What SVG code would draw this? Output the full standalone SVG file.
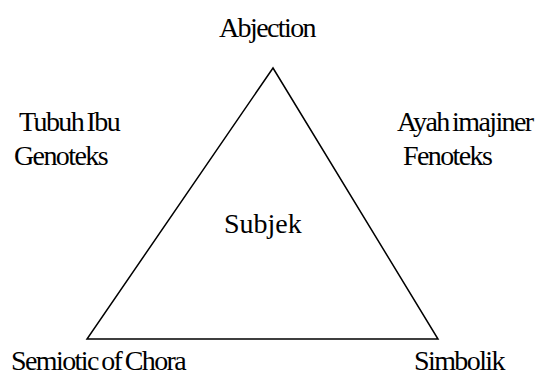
<svg xmlns="http://www.w3.org/2000/svg" width="548" height="376" viewBox="0 0 548 376">
<style>
.lbl{letter-spacing:-1.6px;word-spacing:-2px}
</style>
<rect width="548" height="376" fill="#fff"/>
<g id="connectors">
<polygon points="273,68 87,339 438,339" fill="none" stroke="#000" stroke-width="1.5"/>
</g>
<g id="abjection"><text class="lbl" font-family="Times New Roman" font-size="28" x="219" y="37">Abjection</text></g>
<g id="tubuh"><text class="lbl" font-family="Times New Roman" font-size="28" x="19" y="131">Tubuh Ibu</text><text class="lbl" font-family="Times New Roman" font-size="28" x="14" y="165">Genoteks</text></g>
<g id="ayah"><text class="lbl" font-family="Times New Roman" font-size="28" x="397" y="131">Ayah imajiner</text><text class="lbl" font-family="Times New Roman" font-size="28" x="403" y="165">Fenoteks</text></g>
<g id="chora"><text class="lbl" font-family="Times New Roman" font-size="28" x="11" y="370">Semiotic of Chora</text></g>
<g id="simbolik"><text class="lbl" font-family="Times New Roman" font-size="28" x="414" y="370">Simbolik</text></g>
<g id="subjek"><text font-family="Times New Roman" font-size="28" x="224" y="233">Subjek</text></g>
</svg>
